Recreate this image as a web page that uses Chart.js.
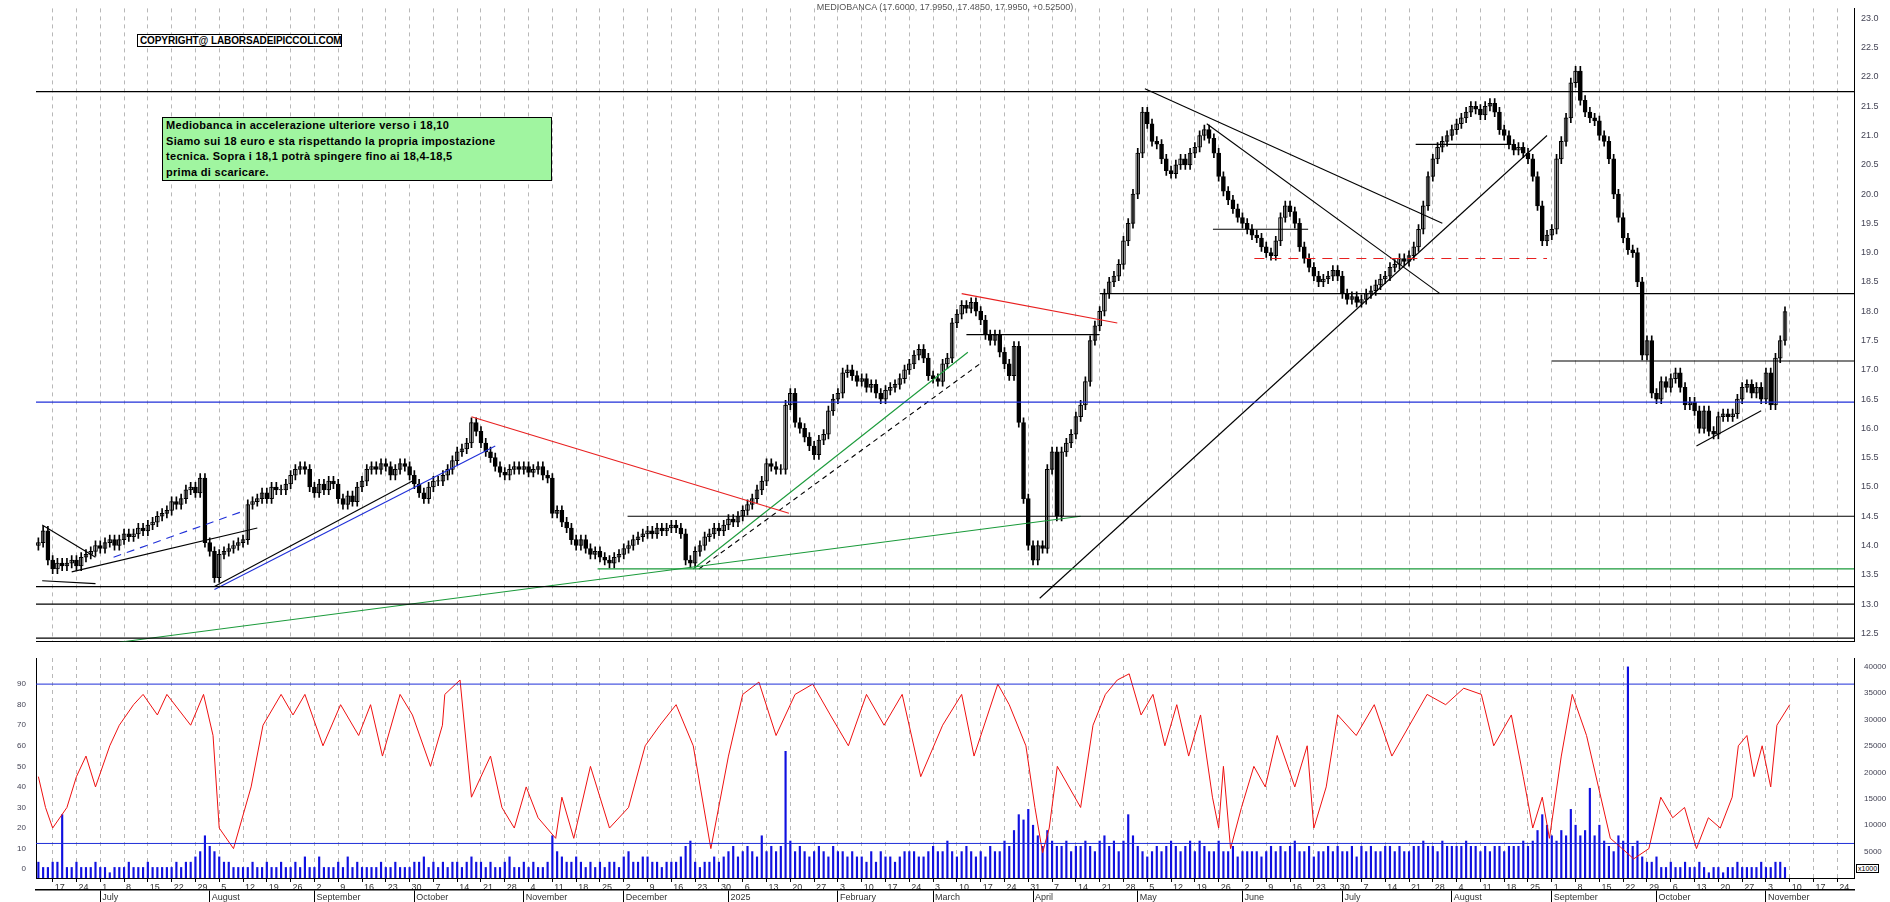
<!DOCTYPE html>
<html><head><meta charset="utf-8">
<script src="https://cdn.jsdelivr.net/npm/chart.js@4.4.1/dist/chart.umd.min.js"></script>
<style>
body{margin:0;background:#fff;width:1890px;height:902px;overflow:hidden;position:relative;font-family:Arial,"Liberation Sans",sans-serif}
canvas{position:absolute;left:0}
#title{position:absolute;top:2px;left:0;width:1890px;text-align:center;font-size:9px;color:#555}
#copy{position:absolute;left:137px;top:34px;width:199px;border:1.5px solid #000;font-size:10px;font-weight:bold;padding:0 2px;letter-spacing:-0.1px;background:#fff;white-space:nowrap;overflow:hidden}
#note{position:absolute;left:162px;top:117px;width:388px;height:62px;border:1.5px solid #000;background:#a0f5a0;overflow:hidden}
#note div{font-size:11px;font-weight:bold;line-height:15.5px;white-space:nowrap;padding:0 3px;color:#000;letter-spacing:0.3px}
#x1000{position:absolute;left:1856px;top:864px;font-size:7px;border:1px solid #000;padding:0 1px;background:#fff}
</style></head><body>
<canvas id="c1" width="1890" height="650" style="top:0"></canvas>
<canvas id="c2" width="1890" height="252" style="top:650px"></canvas>
<div id="title">MEDIOBANCA (17.6000, 17.9950, 17.4850, 17.9950, +0.52500)</div>
<div id="copy">COPYRIGHT@ LABORSADEIPICCOLI.COM</div>
<div id="note"><div>Mediobanca in accelerazione ulteriore verso i 18,10<br>Siamo sui 18 euro e sta rispettando la propria impostazione<br>tecnica. Sopra i 18,1 potrà spingere fino ai 18,4-18,5<br>prima di scaricare.</div></div>
<div id="x1000">x1000</div>
<script>
const closes = [
14.05,14.25,13.75,13.6,13.7,13.65,13.7,13.75,13.65,13.8,
13.85,13.9,14.0,13.95,14.05,14.1,14.0,14.1,14.2,14.15,
14.2,14.3,14.25,14.35,14.4,14.5,14.55,14.6,14.75,14.7,
14.8,14.95,15.0,14.9,15.15,14.05,13.9,13.45,13.85,13.9,
13.95,14.0,14.05,14.1,14.7,14.75,14.8,14.9,14.8,15.0,
14.95,14.95,15.05,15.2,15.3,15.35,15.3,15.0,14.9,15.05,
14.95,15.1,15.05,14.8,14.7,14.85,14.75,15.0,15.1,15.3,
15.35,15.3,15.4,15.35,15.2,15.3,15.4,15.35,15.2,15.05,
14.9,14.8,15.0,15.1,15.1,15.2,15.3,15.45,15.6,15.65,
15.75,16.1,15.95,15.75,15.6,15.5,15.35,15.25,15.2,15.3,
15.35,15.3,15.35,15.25,15.3,15.35,15.2,15.15,14.55,14.6,
14.4,14.3,14.1,14.0,14.1,13.95,13.85,13.9,13.8,13.75,
13.7,13.8,13.85,13.95,14.0,14.1,14.15,14.2,14.25,14.2,
14.3,14.25,14.3,14.35,14.3,14.2,13.75,13.7,13.9,14.0,
14.15,14.2,14.3,14.25,14.35,14.45,14.4,14.5,14.6,14.7,
14.8,14.95,15.1,15.4,15.35,15.3,15.3,16.4,16.6,16.1,
16.0,15.85,15.7,15.55,15.8,15.9,16.3,16.5,16.6,16.95,
17.0,16.9,16.8,16.85,16.7,16.75,16.6,16.5,16.65,16.7,
16.75,16.85,17.0,17.1,17.25,17.35,17.2,16.9,16.85,16.8,
17.1,17.2,17.8,17.95,18.1,18.05,18.15,18.0,17.85,17.6,
17.5,17.6,17.3,17.1,16.9,17.4,16.1,14.8,14.0,13.75,
14.0,13.95,15.3,15.6,14.5,15.6,15.75,15.9,16.2,16.4,
16.8,17.5,17.75,18.0,18.3,18.5,18.6,18.8,19.2,19.5,
20.0,20.7,21.4,21.2,20.9,20.85,20.6,20.4,20.35,20.5,
20.6,20.5,20.7,20.8,21.0,21.1,20.95,20.7,20.3,20.05,
19.9,19.75,19.6,19.5,19.4,19.3,19.25,19.1,19.0,18.95,
19.2,19.6,19.8,19.7,19.5,19.1,18.9,18.75,18.6,18.5,
18.55,18.6,18.7,18.6,18.3,18.2,18.25,18.15,18.2,18.3,
18.35,18.45,18.55,18.6,18.75,18.8,18.9,18.85,18.95,19.1,
19.4,19.8,20.3,20.6,20.8,20.9,21.0,21.1,21.2,21.3,
21.4,21.5,21.45,21.35,21.5,21.55,21.4,21.1,21.0,20.85,
20.75,20.8,20.7,20.6,20.3,19.8,19.2,19.3,19.4,20.6,
20.9,21.3,21.9,22.1,21.6,21.4,21.3,21.25,21.0,20.9,
20.6,20.0,19.6,19.25,19.05,19.0,18.5,17.25,17.5,16.6,
16.5,16.8,16.7,16.85,16.95,16.7,16.4,16.45,16.3,16.0,
16.3,15.95,15.9,16.2,16.25,16.2,16.25,16.5,16.7,16.75,
16.6,16.7,16.5,16.95,16.4,17.2,17.5,17.995];
const firstOpen = 14.0;
const volumesK = [
3,2,2,3,3,12,2,2,3,2, 2,2,3,2,2,1,2,2,2,3,
2,2,2,3,2,2,2,2,2,3, 2,3,3,4,5,8,6,5,4,3,
3,2,2,2,2,3,2,2,3,2, 2,3,2,2,3,2,4,2,2,4,
2,2,2,3,2,4,2,3,2,2, 2,2,3,2,2,3,2,2,2,3,
3,4,2,3,2,3,2,3,3,2, 3,4,3,3,2,3,2,2,3,4,
2,2,3,2,3,2,2,3,8,5, 4,3,3,4,3,2,3,2,3,2,
3,3,2,4,5,3,3,4,4,3, 3,2,3,3,3,4,6,7,3,2,
3,3,4,3,4,5,6,4,5,6, 5,4,8,5,6,5,6,24,7,5,
6,5,4,5,6,5,4,6,5,5, 4,5,4,4,3,5,3,5,4,4,
3,4,5,5,5,4,4,5,6,5, 5,7,5,4,5,6,5,4,5,4,
6,5,5,7,6,9,12,11,13,10, 8,6,9,7,6,6,7,5,6,6,
7,6,5,7,8,6,7,5,7,12, 8,6,5,4,5,6,5,6,7,6,
5,6,7,5,7,6,5,5,7,5, 5,6,4,5,5,5,5,4,5,6,
5,6,5,6,7,5,5,6,4,5, 5,6,5,6,5,5,6,4,6,5,
6,5,5,6,6,5,6,5,5,6, 6,7,6,6,5,7,6,6,6,6,
7,6,6,5,6,5,6,6,5,6, 6,6,7,6,7,9,12,10,8,7,
9,8,13,10,8,9,17,8,10,7,
6,5,8,7,40,6,7,4,3,3, 4,2,2,3,2,2,3,2,2,3,
2,1,2,2,1,2,2,3,2,2, 2,2,3,2,2,3,3,2];
const oscIdx = [0,1.5,3,6,8,10,12,15,17,20,22,25,27,32,34.7,36.7,38,41,44.7,47.2,51,53.5,56,59.8,63.5,67.3,69.8,72.3,76,78.6,82.4,84.9,85.4,88.6,91,95,97.4,100,102.5,105,108.7,110,112.5,116,120,124,127.5,130.6,134,137.6,141.3,145,148,151.4,155,159,162.7,166.4,170.2,174,177.7,181.5,185.4,190,194,196.6,201.6,204,207.5,209.4,211,212.4,214.1,219,221.6,224.2,226.7,229.2,231.7,234.2,236.7,239.2,241.7,244.2,246.7,248,249,250.5,252.8,255.4,257.8,260.3,264,266.6,268,270.6,273,276.9,280.7,284.4,288.1,291.8,295.7,299.5,303.2,305.8,309.5,312,314,316,317.5,320,322.3,325.3,327.8,330.3,332.8,335.2,338.4,340.9,343.4,345.9,348.4,350.9,353.4,355.9,357.2,359,360.5,362.2,364,365.3,368];
const oscVal = [45,30,20,30,45,55,40,60,70,80,85,75,85,70,85,65,20,10,40,70,85,75,85,60,80,65,80,55,85,75,50,70,85,92,35,55,30,20,40,25,15,35,15,50,20,30,60,70,80,60,10,55,85,91,65,85,90,75,60,85,70,85,45,70,85,55,90,80,60,30,8,20,50,30,70,85,92,95,75,85,60,80,55,75,35,20,50,10,30,50,40,65,40,60,20,40,75,65,80,55,70,85,80,88,85,60,75,45,20,35,15,55,85,65,40,15,10,5,10,35,25,30,10,25,20,35,60,65,45,60,40,70,80];
const segments = [
 [0.8,14.35,12,13.8,'#000',[]],[0.8,13.4,12,13.35,'#000',[]],[7,13.55,46,14.3,'#000',[]],
 [15.8,13.8,43.5,14.6,'#1f2fd8',[8,6]],[37,13.3,78.6,15.1,'#000',[]],[37,13.25,96,15.7,'#1f2fd8',[]],
 [91,16.2,157.7,14.55,'#e82020',[]],[17,12.35,219,14.5,'#1a9a3a',[]],[137.6,13.6,195.3,17.3,'#1a9a3a',[]],
 [138.8,13.6,197.8,17.1,'#000',[5,4]],[194,18.3,226.7,17.8,'#e82020',[]],[210.4,13.1,317,21.0,'#000',[]],
 [232.5,21.8,295,19.5,'#000',[]],[245.5,21.2,294.5,18.3,'#000',[]],[348.4,15.7,362,16.3,'#000',[]]];
const levels = [
 [21.75,-1,383,'#000',[]],[18.3,223,383,'#000',[]],[17.15,318,383,'#000',[]],[16.45,-1,383,'#1f2fd8',[]],
 [14.5,123.8,383,'#000',[]],[13.6,117.5,383,'#1a9a3a',[]],[13.3,-1,383,'#000',[]],[13.0,-1,383,'#000',[]],
 [12.42,-1,383,'#000',[]],[17.6,195,223,'#000',[]],[19.4,246.8,266.8,'#000',[]],[20.85,289.4,309.5,'#000',[]],
 [18.9,255.5,317,'#e82020',[10,7]]];
const oscLevels = [90,12.5];
const priceTicks = [12.5,13,13.5,14,14.5,15,15.5,16,16.5,17,17.5,18,18.5,19,19.5,20,20.5,21,21.5,22,22.5,23];
const oscTicks = [0,5,10,15,20,25,30,35,40,45,50,55,60,65,70,75,80,85,90,95];
const volTicks = [5000,10000,15000,20000,25000,30000,35000,40000];
const monthNames = ['January','February','March','April','May','June','July','August','September','October','November','December'];

const N = 382, dates = [];
for (let d = new Date(2024,5,12); dates.length < N; d.setDate(d.getDate()+1)) {
  if (d.getDay() !== 0 && d.getDay() !== 6) dates.push(new Date(d));
}
const mondays = dates.map((d,i)=>d.getDay()===1?i:-1).filter(i=>i>=0);
const monthStarts = dates.map((d,i)=>i>0 && d.getMonth()!==dates[i-1].getMonth()?i:-1).filter(i=>i>=0);

const opens = closes.map((c,i)=> i===0 ? firstOpen : closes[i-1]);
const wicks = closes.map((c,i)=>({x:i,y:[Math.min(c,opens[i])-0.08, Math.max(c,opens[i])+0.08]}));
const bodies = closes.map((c,i)=>({x:i,y:[opens[i], c===opens[i]? c+0.01 : c]}));
const bodyFill = closes.map((c,i)=> c>=opens[i] ? '#fff' : '#000');

Chart.defaults.font.family = 'Arial, "Liberation Sans", sans-serif';
Chart.defaults.animation = false;

const xCommon = (ticksOn) => ({
  type:'linear', min:-0.5, max:N-0.5, offset:false,
  afterBuildTicks: s => { s.ticks = mondays.map(v=>({value:v})); },
  afterFit: s => { s.paddingLeft = 0; s.paddingRight = 0; if (ticksOn) s.height = 12; },
  grid:{ color:'#b8b8b8', lineWidth:1, drawTicks: ticksOn, tickLength:4, tickColor:'#000', offset:false },
  border:{ dash:[4,4], display:true, color:'#000' },
  ticks:{ display: ticksOn, autoSkip:false, maxRotation:0, align:'start', labelOffset:2, padding:0,
    font:{size:9}, color:'#333', callback: v => dates[v] ? String(dates[v].getDate()) : '' }
});

const ds1 = [];
levels.forEach(l=>ds1.push({type:'line',data:[{x:l[1],y:l[0]},{x:l[2],y:l[0]}],borderColor:l[3],borderDash:l[4],borderWidth:1.2,pointRadius:0,yAxisID:'y'}));
segments.forEach(s=>ds1.push({type:'line',data:[{x:s[0],y:s[1]},{x:s[2],y:s[3]}],borderColor:s[4],borderDash:s[5],borderWidth:1.1,pointRadius:0,yAxisID:'y'}));
ds1.push({type:'bar',data:wicks,backgroundColor:'#000',barThickness:1,grouped:false,yAxisID:'y'});
ds1.push({type:'bar',data:bodies,backgroundColor:bodyFill,borderColor:'#000',borderWidth:1,borderSkipped:false,barThickness:4,grouped:false,yAxisID:'y'});

new Chart(document.getElementById('c1'),{
  data:{datasets:ds1},
  options:{responsive:false,devicePixelRatio:1,
    layout:{padding:{left:36,top:4,right:0,bottom:0}},
    plugins:{legend:{display:false},tooltip:{enabled:false}},
    scales:{
      x: xCommon(false),
      y:{position:'right',min:12.36,max:23.17,
        afterBuildTicks:s=>{s.ticks=priceTicks.map(v=>({value:v}));},
        afterFit:s=>{s.width=36;},
        grid:{display:false,drawOnChartArea:false,tickLength:4},
        border:{display:true,color:'#000'},
        ticks:{font:{size:9},color:'#445',padding:3,callback:v=>v.toFixed(1)}}
    }}
});

const ds2 = [];
oscLevels.forEach((v,k)=>ds2.push({type:'line',data:[{x:-1,y:v},{x:N,y:v}],borderColor:'#1f2fd8',borderWidth:1,pointRadius:0,yAxisID:'yo'}));
ds2.push({type:'line',data:oscIdx.map((x,i)=>({x,y:oscVal[i]})),borderColor:'#ee1010',borderWidth:1,pointRadius:0,yAxisID:'yo'});
ds2.push({type:'bar',data:volumesK.map((v,i)=>({x:i,y:v*1000})),backgroundColor:'#1010e0',barThickness:1.5,grouped:false,yAxisID:'yv'});

new Chart(document.getElementById('c2'),{
  data:{datasets:ds2},
  options:{responsive:false,devicePixelRatio:1,
    layout:{padding:{left:0,top:8,right:0,bottom:0}},
    plugins:{legend:{display:false},tooltip:{enabled:false}},
    scales:{
      x: xCommon(true),
      x2:{type:'linear',position:'bottom',min:-0.5,max:N-0.5,offset:false,
        afterBuildTicks:s=>{s.ticks=monthStarts.map(v=>({value:v}));},
        afterFit:s=>{s.height=12; s.paddingLeft=0; s.paddingRight=0;},
        grid:{drawOnChartArea:false,drawTicks:true,tickLength:12,color:'#000'},
        border:{display:true,color:'#000',width:1.5},
        ticks:{autoSkip:false,maxRotation:0,align:'start',labelOffset:2,padding:-10,font:{size:9},color:'#333',
          callback:v=>{const d=dates[v]; if(!d) return ''; return d.getMonth()===0? String(d.getFullYear()) : monthNames[d.getMonth()];}}},
      yo:{position:'left',min:-4.3,max:102.7,
        afterBuildTicks:s=>{s.ticks=oscTicks.map(v=>({value:v}));},
        afterFit:s=>{s.width=36;},
        grid:{display:false,drawOnChartArea:false},
        border:{display:true,color:'#000'},
        ticks:{font:{size:8},color:'#445',padding:2}},
      yv:{position:'right',min:0,max:41680,
        afterBuildTicks:s=>{s.ticks=volTicks.map(v=>({value:v}));},
        afterFit:s=>{s.width=36;},
        grid:{display:false,drawOnChartArea:false},
        border:{display:true,color:'#000'},
        ticks:{font:{size:8},color:'#445',padding:2,callback:v=>String(v)}}
    }}
});
</script>
</body></html>
